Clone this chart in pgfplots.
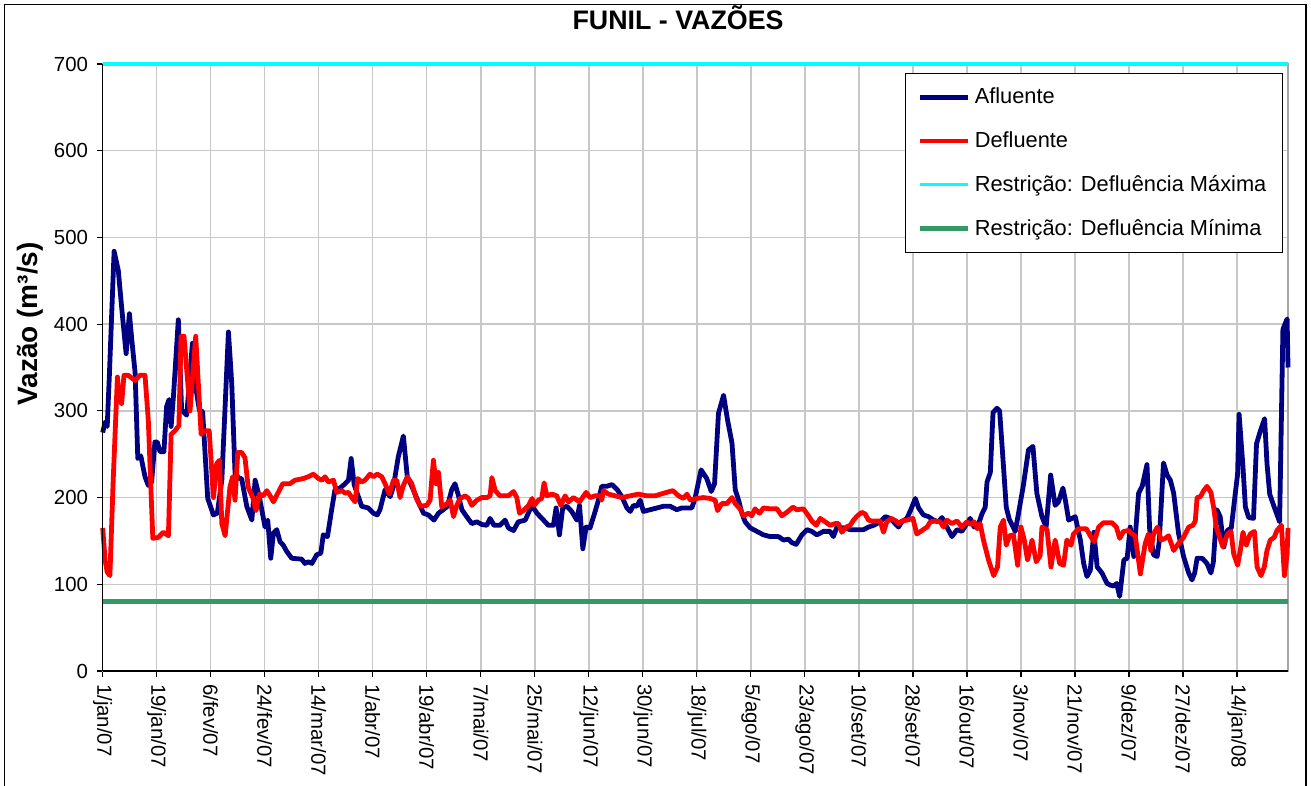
\documentclass[border=0pt]{standalone}
\usepackage{fontspec}
\setmainfont{Liberation Sans}
\usepackage{pgfplots}
\usepackage{pgfplotstable}
\pgfplotsset{compat=1.18}
\definecolor{afl}{RGB}{0,0,128}
\definecolor{dfl}{RGB}{255,0,0}
\definecolor{rmax}{RGB}{0,255,255}
\definecolor{rmin}{RGB}{51,153,102}
\definecolor{gridc}{RGB}{200,200,200}

\pgfplotstableread{
d v
0 275
0.8 287
1.5 282
2.2 339
3.8 484
5.2 462
6.3 420
7.8 366
8.9 412
9.7 382
10.8 344
11.7 245
12.7 248
14.1 224
15.2 214
16.3 218
17.4 264
18.2 264
19.1 253
20.4 253
21.3 305
22.1 313
22.8 282
23.6 318
25.2 405
26.3 301
28.0 295
29.9 378
30.8 332
32.2 301
33.3 299
35.0 199
36.9 180
38.2 182
39.7 220
41.9 391
43.0 332
44.1 228
45.5 222
46.3 222
48.0 190
49.7 174
50.8 220
52.2 201
54.1 166
55.0 174
56.0 130
56.9 159
58.0 163
59.1 149
60.2 145
61.3 138
63.0 130
66.3 129
67.4 124
68.5 126
69.7 124
71.3 134
72.7 136
73.5 157
74.9 155
76.3 186
77.4 209
79.1 211
80.8 216
81.9 220
82.8 245
83.8 215
85.2 201
86.3 190
88.5 188
90.2 182
91.5 180
92.4 186
94.1 209
95.8 201
96.9 213
98.5 247
100.2 271
101.5 224
103.0 213
105.2 195
106.9 182
108.5 180
110.4 174
111.9 182
113.5 186
114.9 190
116.3 209
117.4 216
118.5 203
119.7 186
121.3 178
123.0 170
124.7 172
126.3 169
128.0 168
129.1 176
130.4 168
132.4 168
134.1 174
135.2 165
136.9 162
138.5 172
140.8 174
143.0 191
144.7 182
146.9 174
148.5 168
150.2 168
151.1 188
152.2 157
153.3 188
154.7 190
156.3 184
158.0 174
158.9 191
160.0 141
161.1 166
162.4 165
164.1 184
165.2 197
166.3 213
168.0 213
169.7 215
171.5 209
173.0 201
174.7 188
175.8 184
176.9 191
178.0 190
179.1 197
180.2 184
182.4 186
184.7 188
186.9 190
189.1 190
191.3 186
193.0 188
194.7 188
196.3 188
197.4 199
199.4 232
201.3 222
202.8 207
203.9 216
205.2 297
206.9 318
208.2 290
209.7 263
210.8 209
211.9 197
213.0 182
214.1 172
215.8 165
218.0 161
220.2 157
222.4 155
225.2 155
226.9 151
228.5 152
229.7 148
231.1 146
233.0 157
234.7 163
236.3 161
238.0 157
240.2 161
242.4 161
243.5 155
244.7 166
246.9 165
249.1 163
251.3 163
253.5 163
255.2 166
256.9 168
259.1 172
260.8 178
262.4 176
264.1 170
265.2 166
266.3 172
268.0 176
269.3 186
270.8 199
271.9 188
273.5 180
275.2 178
276.9 174
278.5 172
279.7 177
281.3 166
283.0 155
284.7 163
286.3 161
288.0 170
289.1 176
290.4 166
291.9 170
293.0 181
294.1 189
294.7 218
295.8 229
296.7 298
298.0 303
298.9 300
300.2 235
301.1 189
302.1 175
304.1 161
305.1 180
306.9 216
308.5 255
310.0 259
311.3 205
313.0 178
314.4 166
315.9 226
317.4 191
318.5 195
320.0 211
320.8 197
321.9 174
323.0 176
324.1 178
325.8 151
326.9 124
328.0 109
329.1 116
330.3 160
331.4 120
333.0 113
334.7 101
335.8 99
336.9 98
337.9 101
338.9 86
340.3 128
341.4 130
342.4 166
343.6 132
345.2 205
346.4 213
348.0 238
348.9 163
350.2 134
351.4 132
352.1 150
353.5 240
354.7 226
355.8 220
356.9 205
358.5 159
360.2 132
361.9 113
363.0 105
363.9 113
364.7 130
366.4 130
368.0 124
369.3 113
370.1 125
371.3 186
372.4 178
373.6 143
374.8 162
376.1 165
377.4 204
378.2 227
378.7 296
380.0 235
380.8 189
381.9 177
383.5 176
384.5 262
385.8 277
387.2 291
388.0 239
388.9 204
390.2 191
392.2 172
393.3 394
394.7 406
395 350
}\afluente

\pgfplotstableread{
d v
0 165
0.8 128
1.5 114
2.4 110
3.5 220
4.9 339
5.5 316
6.3 308
7.1 341
8.5 341
10.8 335
12.4 341
14.1 341
15.2 289
16.7 153
18.5 154
20.2 160
21.9 156
22.8 273
24.1 277
25.4 283
26.1 386
27.1 386
29.1 300
31.0 386
32.8 273
34.1 277
35.5 277
36.9 200
38.0 239
38.9 243
39.7 170
40.8 156
42.4 212
43.3 224
44.1 197
45.0 252
46.3 252
47.4 246
48.5 212
50.0 200
51.1 185
52.2 204
53.5 202
54.7 208
55.8 202
56.9 195
58.5 206
60.0 216
62.4 216
64.1 220
66.9 222
68.5 224
70.2 227
71.9 222
73.1 220
74.1 224
75.2 218
76.9 220
78.0 206
79.7 208
80.8 205
81.9 206
83.0 200
84.1 195
85.0 222
86.3 218
87.4 220
89.1 227
90.2 224
91.5 227
93.0 224
94.1 216
95.5 204
96.9 220
98.0 220
99.1 200
100.2 214
101.5 224
103.0 216
104.4 200
105.8 190
108.0 191
109.1 197
110.2 243
111.1 216
111.9 229
113.0 189
114.7 193
115.8 197
116.9 178
118.0 191
119.1 199
120.8 202
121.9 199
123.0 191
124.7 197
126.3 200
128.0 200
129.1 202
129.7 223
130.8 208
132.4 202
135.2 202
136.9 207
138.0 200
138.9 182
140.2 185
141.9 191
143.1 199
143.8 191
145.2 197
146.3 199
147.1 217
148.0 202
149.7 204
151.3 202
152.7 191
154.1 202
155.2 195
156.9 200
158.9 195
161.1 206
162.4 200
164.1 202
165.8 202
166.3 197
166.9 208
168.5 204
170.8 202
173.0 200
175.8 202
178.5 204
181.3 202
184.1 202
186.9 205
190.0 208
191.9 202
193.5 199
194.7 204
195.8 197
198.0 199
200.2 200
202.4 199
204.1 197
204.9 185
206.3 193
208.0 193
209.7 200
210.8 193
212.4 187
213.5 179
215.2 182
216.3 179
217.4 187
218.9 182
220.2 188
222.4 187
224.7 187
226.3 179
228.0 183
230.0 189
231.3 186
233.5 187
235.2 179
236.3 173
237.8 168
239.1 176
240.8 172
242.4 168
244.1 170
245.2 170
246.3 160
247.8 166
249.1 168
250.2 174
251.5 179
253.0 183
254.1 181
255.2 174
256.3 173
257.8 173
259.1 173
260.2 160
261.3 172
262.7 176
264.4 173
265.2 170
266.3 173
268.0 174
270.0 176
271.3 158
273.0 162
274.7 166
275.8 172
277.4 173
279.1 172
280.2 166
281.3 174
283.0 170
284.7 173
286.3 166
288.0 172
289.3 169
290.4 172
291.5 164
292.4 170
293.5 151
295.2 128
296.9 110
298.2 120
299.1 166
300.2 174
301.1 145
302.2 156
303.5 157
304.9 122
306.0 166
307.1 151
308.2 128
309.7 151
311.1 126
312.4 133
313.0 166
314.7 163
316.0 120
317.4 151
318.9 124
320.2 122
321.3 151
322.7 145
323.5 158
325.2 164
327.8 164
329.1 156
330.4 149
331.9 166
333.5 171
336.3 171
337.8 166
338.9 153
340.2 161
341.9 162
343.0 158
344.1 156
345.8 112
347.4 147
348.5 158
349.3 139
350.2 158
351.5 166
352.7 151
354.1 153
355.2 156
356.9 139
358.5 147
360.2 154
361.9 166
363.3 168
364.1 173
364.7 200
365.8 201
366.9 208
368.0 213
369.3 206
370.2 189
371.1 166
373.3 143
374.8 158
376.0 161
376.9 135
378.2 122
379.1 139
380.0 160
381.1 145
382.4 158
383.8 161
384.7 120
386.0 110
387.1 120
388.0 139
389.1 151
390.4 154
391.3 162
392.8 168
393.8 110
394.7 135
395 165
}\defluente

\begin{document}
\begin{tikzpicture}
\path[use as bounding box] (-51.35pt,-57.5pt) rectangle (604.15pt,335.5pt);
\draw[black, line width=0.6pt] (-49.1pt,-80pt) rectangle (601.65pt,333.25pt);
\begin{axis}[
  scale only axis,
  width=592.65pt, height=303.5pt,
  at={(0,0)}, anchor=south west,
  xmin=0, xmax=395, ymin=0, ymax=700,
  clip=false,
  xtick={0,18,...,378},
  xticklabels={1/jan/07,19/jan/07,6/fev/07,24/fev/07,14/mar/07,1/abr/07,19/abr/07,7/mai/07,25/mai/07,12/jun/07,30/jun/07,18/jul/07,5/ago/07,23/ago/07,10/set/07,28/set/07,16/out/07,3/nov/07,21/nov/07,9/dez/07,27/dez/07,14/jan/08},
  ytick={0,100,...,700},
  grid=major,
  major grid style={draw=gridc, line width=0.7pt},
  axis line style={draw=gray!70, line width=0.6pt},
  tick align=outside,
  xtick pos=left, ytick pos=left,
  major tick length=3pt,
  tick style={black, line width=0.6pt},
  /pgf/number format/assume math mode=true,
  ticklabel style={font=\fontsize{10.2}{12}\selectfont},
  xticklabel style={rotate=-90, anchor=west},
  yticklabel style={xshift=-0.8pt},
  title={FUNIL - VAZÕES},
  title style={font=\bfseries\fontsize{13.4}{15}\selectfont, at={(axis description cs:0.4854,1)}, anchor=center, yshift=17pt},
  ylabel={Vazão (m³/s)},
  every axis y label/.style={at={(axis description cs:-0.0614,0.572)}, rotate=90, anchor=center, font=\bfseries\fontsize{14}{16}\selectfont},
  legend style={at={(axis description cs:0.677,0.985)}, anchor=north west, draw=black, line width=0.6pt, fill=white,
    font=\fontsize{10.9}{13}\selectfont, row sep=8.5pt, inner xsep=6pt, inner ysep=5pt, cells={anchor=west}},
  legend cell align=left,
  legend image code/.code={\draw[#1] (0pt,0pt) -- (24pt,0pt);},
  after end axis/.code={
    \draw[black, line width=0.8pt] (rel axis cs:0,0) -- (rel axis cs:0,1);
    \draw[black, line width=0.8pt] (rel axis cs:0,0) -- (rel axis cs:1,0);
  },
]
\addplot[afl, line width=2.4pt, line join=round] table[x=d, y=v] {\afluente};
\addlegendentry{Afluente}
\addplot[dfl, line width=2.4pt, line join=round] table[x=d, y=v] {\defluente};
\addlegendentry{Defluente}
\addplot[rmax, line width=1.6pt] coordinates {(0,700) (395,700)};
\addlegendentry{Restrição:  Defluência Máxima}
\addplot[rmin, line width=2.5pt] coordinates {(0,80) (395,80)};
\addlegendentry{Restrição:  Defluência Mínima}
\end{axis}
\end{tikzpicture}
\end{document}
